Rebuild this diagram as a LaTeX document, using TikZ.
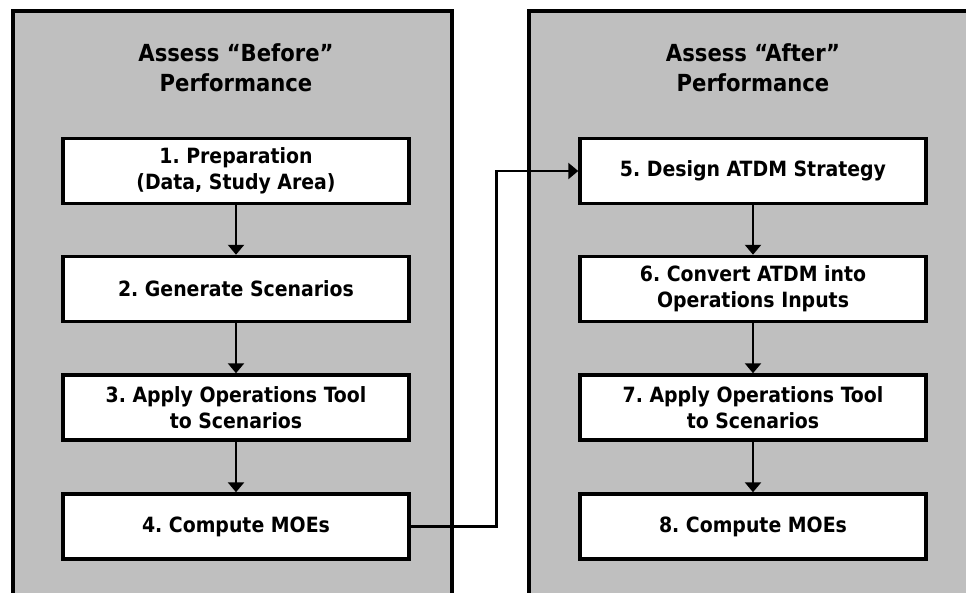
\documentclass[tikz,border=0pt]{standalone}
\usepackage{fontspec}
\setmainfont{DejaVu Sans Condensed}[BoldFont={DejaVu Sans Condensed Bold}]
\usetikzlibrary{arrows.meta}
\definecolor{panelgray}{RGB}{191,191,191}
\frenchspacing
\tikzset{
  panel/.style={draw=black, fill=panelgray, line width=3.5pt},
  stepbox/.style={draw=black, fill=white, line width=3.5pt, minimum width=346pt, minimum height=65pt, align=center, inner sep=0pt, font=\fontsize{21}{26}\selectfont\bfseries},
  ttl/.style={align=center, font=\fontsize{23.5}{30}\selectfont\bfseries},
  conn/.style={draw=black, line width=2.8pt, -{Triangle[width=16pt,length=10pt]}}
}
\begin{document}
\begin{tikzpicture}[x=1pt,y=-1pt]
\useasboundingbox (0,0) rectangle (966,592);
\clip (0,0) rectangle (966,592);
\draw[panel] (13,11) rectangle (452,610);
\draw[panel] (529,11) rectangle (985,610);
\node[ttl] (t1) at (236,68) {Assess “Before”\\Performance};
\node[ttl] (t2) at (753,68) {Assess “After”\\Performance};
\node[stepbox] (b1) at (236,171) {1. Preparation\\(Data, Study Area)};
\node[stepbox] (b2) at (236,289) {2. Generate Scenarios};
\node[stepbox] (b3) at (236,407.5) {3. Apply Operations Tool\\to Scenarios};
\node[stepbox] (b4) at (236,526.5) {4. Compute MOEs};
\node[stepbox] (b5) at (753,171) {5. Design ATDM Strategy};
\node[stepbox] (b6) at (753,289) {6. Convert ATDM into\\Operations Inputs};
\node[stepbox] (b7) at (753,407.5) {7. Apply Operations Tool\\to Scenarios};
\node[stepbox] (b8) at (753,526.5) {8. Compute MOEs};
\draw[conn] (b1) -- (b2);
\draw[conn] (b2) -- (b3);
\draw[conn] (b3) -- (b4);
\draw[conn] (b5) -- (b6);
\draw[conn] (b6) -- (b7);
\draw[conn] (b7) -- (b8);
\draw[conn] (b4.east) -- ++(86,0) |- (b5.west);
\end{tikzpicture}
\end{document}
